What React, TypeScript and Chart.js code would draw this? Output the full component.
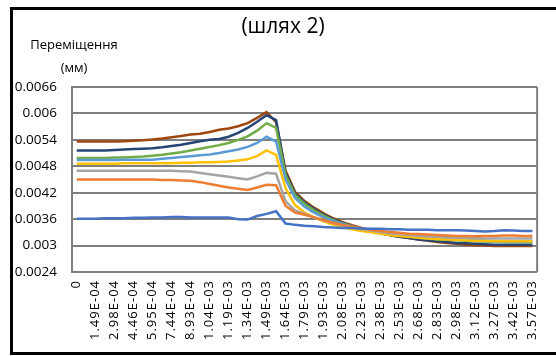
import React, { useEffect, useRef } from "react";
import { Chart, registerables } from "chart.js";

Chart.register(...registerables);

const titleText = "(шлях 2)";
const axisTitleLines = ["Переміщення", "(мм)"];

const categories = [
  "0", "7.44E-05", "1.49E-04", "2.23E-04", "2.98E-04", "3.72E-04", "4.46E-04", "5.21E-04",
  "5.95E-04", "6.70E-04", "7.44E-04", "8.18E-04", "8.93E-04", "9.67E-04", "1.04E-03", "1.12E-03",
  "1.19E-03", "1.26E-03", "1.34E-03", "1.41E-03", "1.49E-03", "1.56E-03", "1.64E-03", "1.71E-03",
  "1.79E-03", "1.86E-03", "1.93E-03", "2.01E-03", "2.08E-03", "2.16E-03", "2.23E-03", "2.31E-03",
  "2.38E-03", "2.46E-03", "2.53E-03", "2.60E-03", "2.68E-03", "2.75E-03", "2.83E-03", "2.90E-03",
  "2.98E-03", "3.05E-03", "3.12E-03", "3.20E-03", "3.27E-03", "3.35E-03", "3.42E-03", "3.50E-03",
  "3.57E-03",
];

const yTickValues = [0.0024, 0.003, 0.0036, 0.0042, 0.0048, 0.0054, 0.006, 0.0066];
const yTickLabels = ["0.0024", "0.003", "0.0036", "0.0042", "0.0048", "0.0054", "0.006", "0.0066"];

const series1 = [
  0.00361, 0.00361, 0.00361, 0.00362, 0.00362, 0.00362, 0.00363, 0.00363,
  0.00364, 0.00364, 0.00365, 0.00365, 0.00364, 0.00364, 0.00364, 0.00364,
  0.00364, 0.0036, 0.00359, 0.00367, 0.00372, 0.00378, 0.0035, 0.00347,
  0.00345, 0.00344, 0.00342, 0.00341, 0.0034, 0.0034, 0.00339, 0.00338,
  0.00338, 0.00337, 0.00337, 0.00336, 0.00336, 0.00336, 0.00335, 0.00335,
  0.00335, 0.00334, 0.00333, 0.00332, 0.00333, 0.00335, 0.00334, 0.00333,
  0.00333,
];
const series2 = [
  0.0045, 0.0045, 0.0045, 0.0045, 0.0045, 0.0045, 0.0045, 0.0045,
  0.0045, 0.00449, 0.00449, 0.00448, 0.00447, 0.00444, 0.0044, 0.00436,
  0.00432, 0.00429, 0.00426, 0.00432, 0.00438, 0.00437, 0.0039, 0.00375,
  0.0037, 0.00364, 0.00358, 0.00352, 0.00347, 0.00343, 0.00339, 0.00336,
  0.00333, 0.00331, 0.00329, 0.00327, 0.00326, 0.00325, 0.00324, 0.00323,
  0.00322, 0.00322, 0.00321, 0.00322, 0.00322, 0.00323, 0.00323, 0.00322,
  0.00322,
];
const series3 = [
  0.0047, 0.0047, 0.0047, 0.0047, 0.0047, 0.0047, 0.0047, 0.0047,
  0.0047, 0.0047, 0.0047, 0.00469, 0.00468, 0.00465, 0.00462, 0.00459,
  0.00456, 0.00453, 0.0045, 0.00457, 0.00465, 0.00463, 0.004, 0.0038,
  0.00372, 0.00364, 0.00357, 0.00351, 0.00346, 0.00341, 0.00337, 0.00334,
  0.00331, 0.00328, 0.00326, 0.00324, 0.00322, 0.00321, 0.0032, 0.00319,
  0.00318, 0.00317, 0.00317, 0.00316, 0.00316, 0.00316, 0.00316, 0.00316,
  0.00316,
];
const series4 = [
  0.00486, 0.00486, 0.00486, 0.00486, 0.00486, 0.00487, 0.00487, 0.00487,
  0.00487, 0.00487, 0.00487, 0.00488, 0.00488, 0.00489, 0.00489, 0.0049,
  0.00491, 0.00493, 0.00496, 0.00503, 0.00516, 0.00506, 0.0043, 0.00392,
  0.00375, 0.00364, 0.00355, 0.00348, 0.00342, 0.00337, 0.00333, 0.0033,
  0.00327, 0.00324, 0.00322, 0.0032, 0.00318, 0.00316, 0.00315, 0.00314,
  0.00313, 0.00312, 0.00311, 0.00311, 0.0031, 0.0031, 0.0031, 0.0031,
  0.0031,
];
const series5 = [
  0.00494, 0.00494, 0.00494, 0.00494, 0.00494, 0.00495, 0.00495, 0.00495,
  0.00495, 0.00497, 0.00499, 0.00501, 0.00503, 0.00505, 0.00507, 0.0051,
  0.00514, 0.00518, 0.00524, 0.00533, 0.00547, 0.00536, 0.0045, 0.00408,
  0.00388, 0.00375, 0.00364, 0.00356, 0.00349, 0.00343, 0.00338, 0.00334,
  0.0033, 0.00327, 0.00324, 0.00322, 0.0032, 0.00318, 0.00316, 0.00315,
  0.00314, 0.00313, 0.00312, 0.00311, 0.0031, 0.0031, 0.0031, 0.0031,
  0.0031,
];
const series6 = [
  0.00499, 0.00499, 0.00499, 0.00499, 0.005, 0.005, 0.00501, 0.00502,
  0.00504, 0.00506, 0.00509, 0.00512, 0.00516, 0.0052, 0.00524, 0.00528,
  0.00533, 0.0054, 0.00548, 0.00561, 0.00578, 0.00567, 0.0046, 0.00415,
  0.00395, 0.0038, 0.00368, 0.00358, 0.0035, 0.00344, 0.00338, 0.00333,
  0.00329, 0.00325, 0.00322, 0.0032, 0.00318, 0.00316, 0.00314, 0.00313,
  0.00312, 0.00311, 0.0031, 0.00309, 0.00309, 0.00308, 0.00308, 0.00308,
  0.00308,
];
const series7 = [
  0.00516, 0.00516, 0.00516, 0.00516, 0.00517, 0.00518, 0.00519, 0.0052,
  0.00521, 0.00523, 0.00526, 0.00529, 0.00533, 0.00537, 0.0054, 0.00542,
  0.00547, 0.00556, 0.00567, 0.00581, 0.00596, 0.00585, 0.00465, 0.00418,
  0.00398, 0.00383, 0.0037, 0.0036, 0.00351, 0.00344, 0.00338, 0.00333,
  0.00328, 0.00324, 0.0032, 0.00317, 0.00314, 0.00312, 0.0031, 0.00308,
  0.00306, 0.00305, 0.00304, 0.00303, 0.00302, 0.00302, 0.00302, 0.00302,
  0.00302,
];
const series8 = [
  0.00536, 0.00536, 0.00536, 0.00536, 0.00536, 0.00537, 0.00538, 0.00539,
  0.00541, 0.00543, 0.00546, 0.00549, 0.00552, 0.00554, 0.00558, 0.00563,
  0.00566, 0.00571, 0.00578, 0.0059, 0.00603, 0.0058, 0.0047, 0.00422,
  0.00401, 0.00386, 0.00373, 0.00362, 0.00353, 0.00346, 0.0034, 0.00334,
  0.00328, 0.00324, 0.0032, 0.00317, 0.00314, 0.00311, 0.00308, 0.00306,
  0.00304, 0.00302, 0.00301, 0.003, 0.00299, 0.00299, 0.00299, 0.00299,
  0.00299,
];

const seriesList = [series1, series2, series3, series4, series5, series6, series7, series8];
const seriesColors = ["#4472C4", "#ED7D31", "#A5A5A5", "#FFC000", "#5B9BD5", "#70AD47", "#264478", "#9E480E"];

const GRID = "#7f7f7f";

const textPlugin = {
  id: "extraTexts",
  afterDatasetsDraw(chart: any) {
    chart.ctx.letterSpacing = "1px";
  },
  afterDraw(chart: any) {
    const ctx = chart.ctx;
    ctx.letterSpacing = "0px";
    ctx.save();
    const a = chart.chartArea;
    ctx.strokeStyle = GRID;
    ctx.lineWidth = 2;
    ctx.beginPath();
    ctx.moveTo(a.right, a.top);
    ctx.lineTo(a.right, a.bottom);
    ctx.stroke();
    ctx.fillStyle = "#000";
    ctx.textAlign = "center";
    ctx.textBaseline = "alphabetic";
    ctx.font = "21px 'Open Sans'";
    ctx.fillText(titleText, 283, 33);
    ctx.font = "13px 'Open Sans'";
    ctx.fillText(axisTitleLines[0], 74, 49);
    ctx.fillText(axisTitleLines[1], 74, 72);
    ctx.restore();
  },
};

export default function App() {
  const ref = useRef<HTMLCanvasElement>(null);
  useEffect(() => {
    if (!ref.current) return;
    const chart = new Chart(ref.current, {
      type: "line",
      data: {
        labels: categories,
        datasets: seriesList.map((d, i) => ({
          label: "S" + (i + 1),
          data: d,
          borderColor: seriesColors[i],
          backgroundColor: seriesColors[i],
          borderWidth: 2.5,
          pointRadius: 0,
          tension: 0,
          fill: false,
        })),
      },
      options: {
        animation: false,
        responsive: false,
        devicePixelRatio: 1,
        layout: { padding: { left: 0, top: 87, right: 2, bottom: 0 } },
        plugins: { legend: { display: false }, tooltip: { enabled: false }, title: { display: false } },
        scales: {
          x: {
            type: "category",
            offset: true,
            grid: { display: false, drawTicks: false },
            border: { display: false },
            ticks: {
              autoSkip: false,
              maxRotation: 90,
              minRotation: 90,
              padding: 8,
              color: "#000",
              z: 1,
              font: { family: "'Open Sans'", size: 13 },
              callback: (_v: any, i: number) => (i % 2 === 0 ? categories[i] : ""),
            },
            afterFit: (s: any) => {
              s.height = 84;
            },
          },
          y: {
            min: 0.0024,
            max: 0.0066,
            grid: { color: GRID, lineWidth: 2, drawTicks: false },
            border: { display: true, color: GRID, width: 2 },
            ticks: {
              padding: 15,
              color: "#000",
              font: { family: "'Open Sans'", size: 13.5 },
              callback: (_v: any, i: number) => yTickLabels[i],
            },
            afterBuildTicks: (s: any) => {
              s.ticks = yTickValues.map((v) => ({ value: v }));
            },
            afterFit: (s: any) => {
              s.width = 72;
            },
          },
        },
      },
      plugins: [textPlugin],
    } as any);
    return () => chart.destroy();
  }, []);

  return (
    <div
      style={{
        position: "fixed",
        left: 0,
        top: 0,
        width: 556,
        height: 356,
        overflow: "hidden",
        background: "#fff",
      }}
    >
      <canvas ref={ref} width={556} height={356} style={{ position: "absolute", left: 0, top: 0 }} />
      <div
        style={{
          position: "absolute",
          left: 10,
          top: 7,
          width: 600,
          height: 348,
          border: "3px solid #000",
          boxSizing: "border-box",
          pointerEvents: "none",
        }}
      />
    </div>
  );
}
